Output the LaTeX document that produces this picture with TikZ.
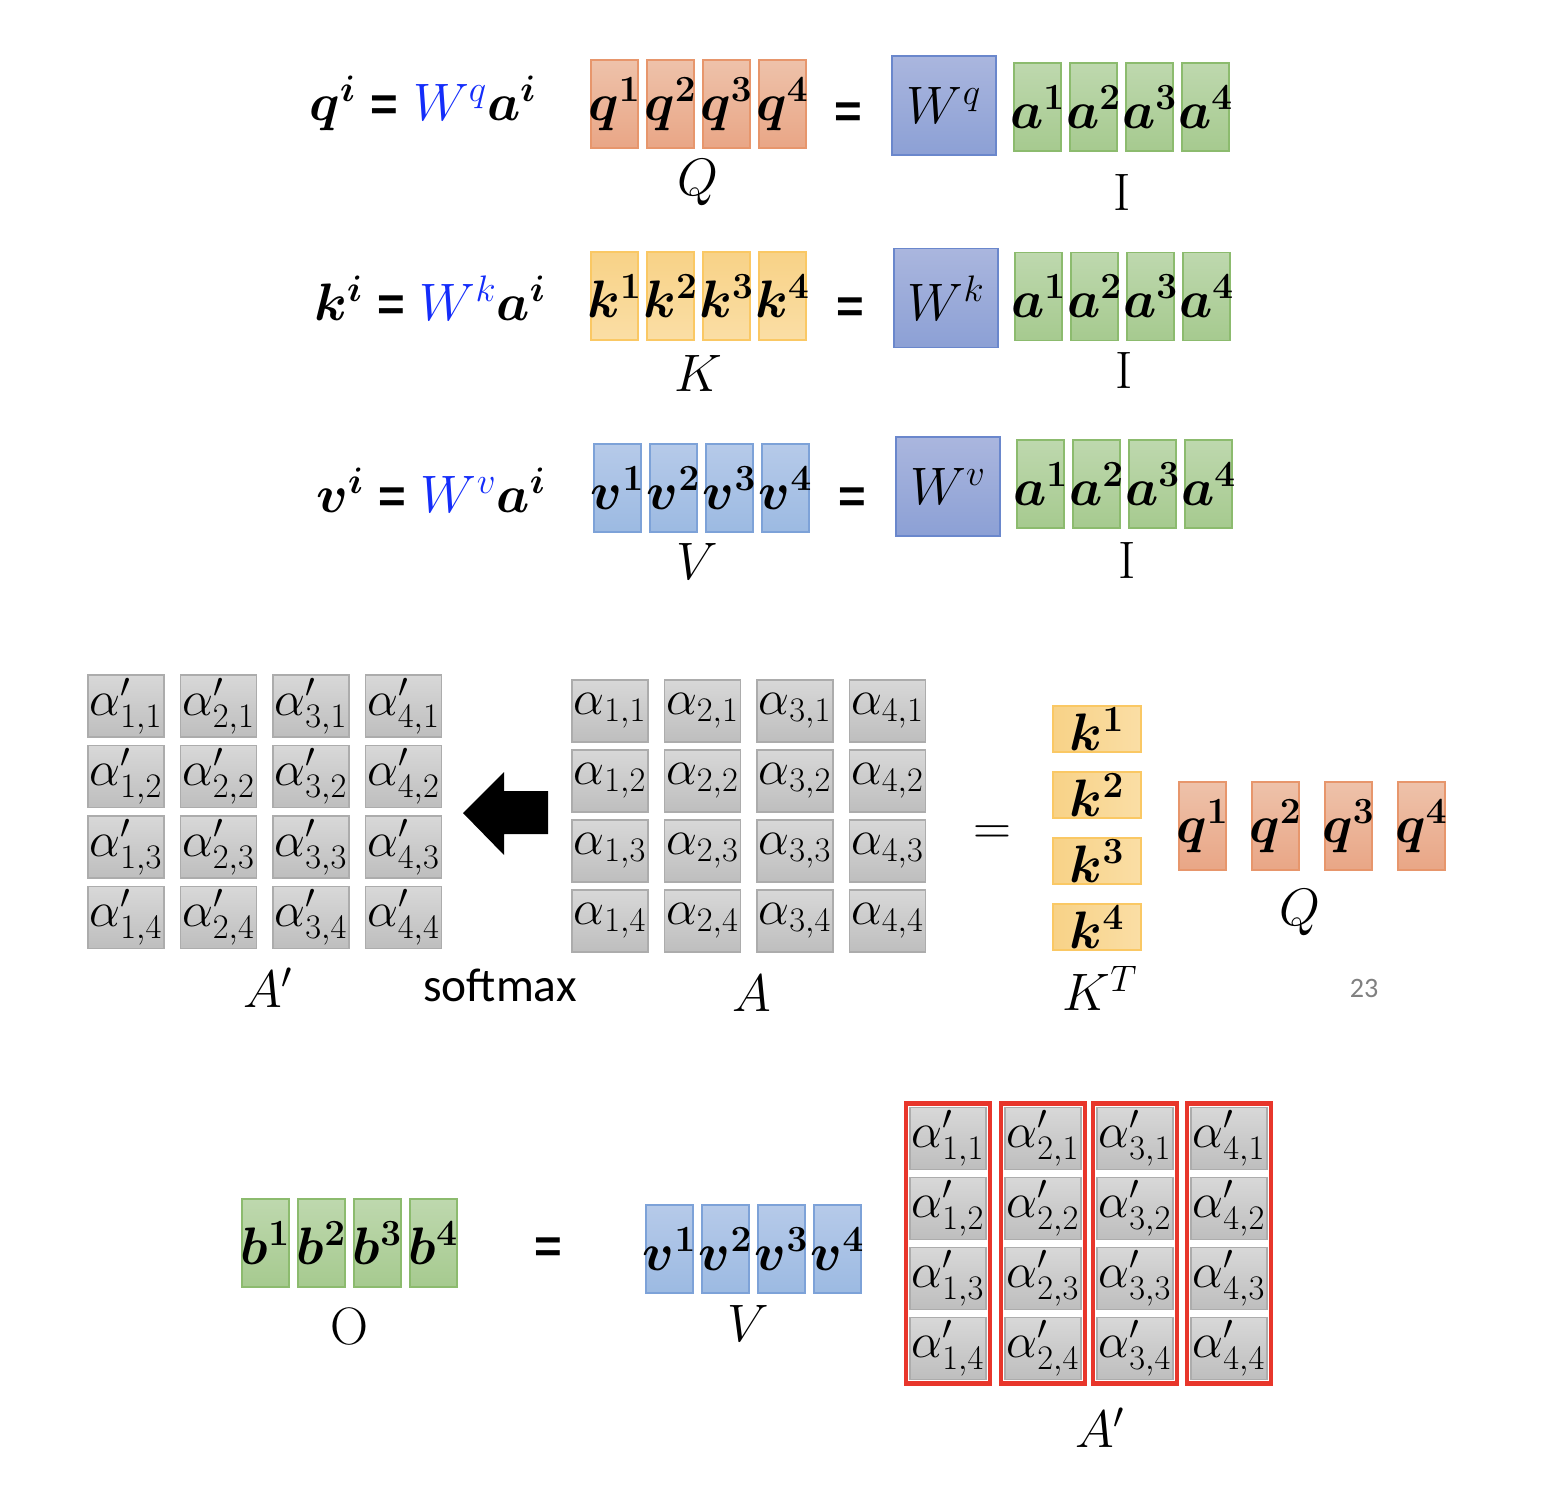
\RequirePackage{fix-cm}
\documentclass[tikz,border=0pt]{standalone}
\usepackage{amsmath}
\usepackage{fontspec}
\newfontfamily\calibri{Carlito}
\newfontfamily\arialb{Liberation Sans}
\usepackage{tikz}
\usetikzlibrary{fit}

\definecolor{qtop}{RGB}{238,194,170}
\definecolor{qbot}{RGB}{233,166,134}
\definecolor{qdraw}{RGB}{231,150,108}
\definecolor{ktop}{RGB}{248,210,135}
\definecolor{kbot}{RGB}{250,222,165}
\definecolor{kdraw}{RGB}{250,200,100}
\definecolor{vtop}{RGB}{182,202,233}
\definecolor{vbot}{RGB}{156,186,226}
\definecolor{vdraw}{RGB}{125,162,216}
\definecolor{wtop}{RGB}{170,182,222}
\definecolor{wbot}{RGB}{140,160,213}
\definecolor{wdraw}{RGB}{106,135,204}
\definecolor{gtop}{RGB}{190,216,174}
\definecolor{gbot}{RGB}{166,202,143}
\definecolor{gdraw}{RGB}{140,187,110}
\definecolor{ctop}{RGB}{216,216,216}
\definecolor{cbot}{RGB}{190,190,190}
\definecolor{cdraw}{RGB}{172,172,172}
\definecolor{wblue}{RGB}{20,45,250}
\definecolor{redline}{RGB}{232,54,43}

\newcommand{\vecfont}{\fontsize{30}{36}\selectfont}
\newcommand{\cellfont}{\fontsize{28}{32}\selectfont}
% label that does not widen its box
\newcommand{\vl}[1]{\makebox[0pt]{$\boldsymbol{#1}$}}
\newcommand{\cl}[1]{\makebox[0pt]{$#1$}}
\newcommand{\beq}{\text{\arialb\bfseries\fontsize{27}{30}\selectfont =}}

\begin{document}
\begin{tikzpicture}[x=0.02cm,y=-0.02cm,
    vec/.style={minimum width=0.94cm,minimum height=1.76cm,inner sep=0pt,line width=0.8pt,font=\vecfont},
    qbox/.style={vec,draw=qdraw,top color=qtop,bottom color=qbot},
    kbox/.style={vec,draw=kdraw,top color=ktop,bottom color=kbot},
    vbox/.style={vec,draw=vdraw,top color=vtop,bottom color=vbot},
    abox/.style={vec,draw=gdraw,top color=gtop,bottom color=gbot},
    wbox/.style={vec,minimum width=2.08cm,minimum height=1.98cm,draw=wdraw,top color=wtop,bottom color=wbot},
    ktbox/.style={vec,minimum width=1.76cm,minimum height=0.92cm,draw=kdraw,left color=ktop,right color=kbot},
    cell/.style={minimum width=1.52cm,minimum height=1.24cm,inner sep=0pt,line width=0.6pt,draw=cdraw,top color=ctop,bottom color=cbot,font=\cellfont},
    redbox/.style={draw=redline,line width=2.6pt,inner sep=2pt},
    lab/.style={font=\vecfont}]
  \useasboundingbox (0,0) rectangle (1544,1506);

  % q, k, v = W a
  \node[lab] (EQq) at (423,103) {$\boldsymbol{q^i}\mathrel{\beq}\textcolor{wblue}{W^q}\boldsymbol{a^i}$};
  \node[lab] (EQk) at (430,298) {$\boldsymbol{k^i}\mathrel{\beq}\textcolor{wblue}{W^k}\boldsymbol{a^i}$};
  \node[lab] (EQv) at (431,490) {$\boldsymbol{v^i}\mathrel{\beq}\textcolor{wblue}{W^v}\boldsymbol{a^i}$};
  \foreach \i in {1,...,4} {
    \node[qbox] (Q\i) at ({558.5+56*\i},104) {\vl{q^{\i}}};
    \node[abox] (Iq\i) at ({981.5+56*\i},107) {\vl{a^{\i}}};
    \node[kbox] (K\i) at ({558.5+56*\i},296) {\vl{k^{\i}}};
    \node[abox] (Ik\i) at ({982.5+56*\i},296.5) {\vl{a^{\i}}};
    \node[vbox] (V\i) at ({561.5+56*\i},488) {\vl{v^{\i}}};
    \node[abox] (Iv\i) at ({984.5+56*\i},484) {\vl{a^{\i}}};
  }
  \node[wbox] (Wq) at (944,105.5) {$W^q$};
  \node[wbox] (Wk) at (946,298) {$W^k$};
  \node[wbox] (Wv) at (948,486.5) {$W^v$};
  \node[lab] (EQ1) at (848,115) {$\beq$};
  \node[lab] (EQ2) at (850,310) {$\beq$};
  \node[lab] (EQ3) at (852,500) {$\beq$};
  \node[lab] (LQ) at (698,183) {$Q$};
  \node[lab] (LIq) at (1122,193) {$\mathrm{I}$};
  \node[lab] (LK) at (698,373) {$K$};
  \node[lab] (LIk) at (1124,371) {$\mathrm{I}$};
  \node[lab] (LV) at (697,561) {$V$};
  \node[lab] (LIv) at (1127,561) {$\mathrm{I}$};

  % A' <- softmax(A) = K^T Q
  \foreach \r in {1,...,4} \foreach \c in {1,...,4} {
    \node[cell] (S\c\r) at ({126+92.5*(\c-1)},{706+70.5*(\r-1)}) {\cl{\alpha'_{\c,\r}}};
    \node[cell] (T\c\r) at ({610+92.5*(\c-1)},{711+70*(\r-1)}) {\cl{\alpha_{\c,\r}}};
  }
  \foreach \i in {1,...,4} {
    \node[ktbox] (KT\i) at (1097,{663+66*\i}) {\vl{k^{\i}}};
    \node[qbox] (QM\i) at ({1129.5+73*\i},826) {\vl{q^{\i}}};
  }
  \fill (548,791) -- (504,791) -- (504,772) -- (463,813) -- (504,855) -- (504,834) -- (548,834) -- cycle;
  \node[lab] (EQ4) at (992,835) {$=$};
  \node[lab] (LAp) at (268,988) {$A'$};
  \node[font=\calibri\fontsize{27}{32}\selectfont] (SM) at (500,985) {softmax};
  \node[lab] (LA) at (752,993) {$A$};
  \node[lab] (LKT) at (1100,988) {$K^T$};
  \node[lab] (LQM) at (1300,913) {$Q$};
  \node[font=\calibri\fontsize{16}{18}\selectfont,text=gray] (PG) at (1364,988) {23};

  % O = V A'
  \foreach \i in {1,...,4} {
    \node[abox] (B\i) at ({209.5+56*\i},1243) {\vl{b^{\i}}};
    \node[vbox] (VB\i) at ({613.5+56*\i},1249) {\vl{v^{\i}}};
  }
  \foreach \x [count=\c] in {948,1043,1135,1229} \foreach \r in {1,...,4}
    \node[cell] (P\c\r) at (\x,{1138.5+70*(\r-1)}) {\cl{\alpha'_{\c,\r}}};
  \foreach \c in {1,...,4}
    \node[redbox,fit=(P\c1)(P\c4)] (R\c) {};
  \node[lab] (EQ5) at (548,1250) {$\beq$};
  \node[lab] (LO) at (349,1326) {$\mathrm{O}$};
  \node[lab] (LVB) at (748,1323) {$V$};
  \node[lab] (LApB) at (1100,1428) {$A'$};
\end{tikzpicture}
\end{document}
